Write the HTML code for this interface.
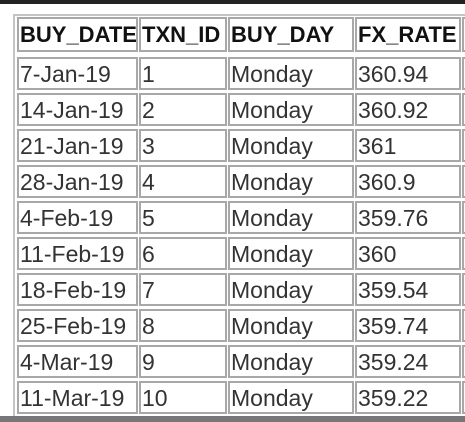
<!DOCTYPE html>
<html><head><meta charset="utf-8"><style>
body{margin:0;width:465px;height:422px;overflow:hidden;background:#fff;position:relative;font-family:"Liberation Sans",sans-serif;}
.topbar{position:absolute;left:0;top:0;width:465px;height:4px;background:#222;}
.frame{position:absolute;left:13px;top:14px;width:460px;height:404px;border:2px solid #c4c4c4;box-sizing:border-box;}
.c{position:absolute;border:2px solid #a8a8a8;box-sizing:border-box;font-size:23px;color:#333;line-height:31px;padding-left:1px;white-space:nowrap;overflow:hidden;}
.h{font-weight:bold;color:#111;font-size:22px;line-height:32px;}
.bottom{position:absolute;left:0;top:416px;width:465px;height:6px;background:#777;}
</style></head><body>
<div class="topbar"></div>
<div class="frame"></div>
<div id="t"></div>
<div class="bottom"></div>
<script>
const headers=["BUY_DATE","TXN_ID","BUY_DAY","FX_RATE",""];
const dates=["7-Jan-19","14-Jan-19","21-Jan-19","28-Jan-19","4-Feb-19","11-Feb-19","18-Feb-19","25-Feb-19","4-Mar-19","11-Mar-19"];
const ids=["1","2","3","4","5","6","7","8","9","10"];
const days=["Monday","Monday","Monday","Monday","Monday","Monday","Monday","Monday","Monday","Monday"];
const rates=["360.94","360.92","361","360.9","359.76","360","359.54","359.74","359.24","359.22"];
const colX=[17,139,228,355,462],colW=[121,88,126,106,10];
const t=document.getElementById('t');
function cell(x,y,w,h,txt,cls,name){
 const d=document.createElement('div');d.className='c '+cls;
 
 
 d.style.left=x+'px';d.style.top=y+'px';d.style.width=w+'px';d.style.height=h+'px';d.textContent=txt;t.appendChild(d);}
headers.forEach((h,i)=>cell(colX[i],17,colW[i],35,h,'h','header-cell'));
const cols=[dates,ids,days,rates,ids.map(()=>"")];
for(let r=0;r<dates.length;r++){for(let c=0;c<5;c++){cell(colX[c],57+36*r,colW[c],33,cols[c][r],'','table-cell');}}
</script>
</body></html>
